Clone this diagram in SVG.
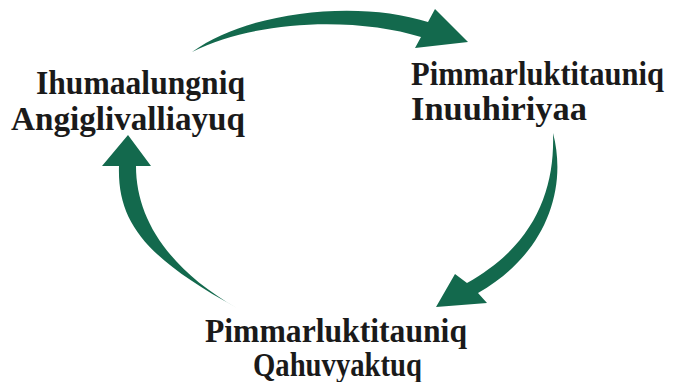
<svg xmlns="http://www.w3.org/2000/svg" width="673" height="382" viewBox="0 0 673 382">
<style>
.lbl{font-family:"Liberation Serif","DejaVu Serif",serif;font-weight:bold;font-size:33px;fill:#1a1a1a}
.arr{fill:#13694d;stroke:none}
</style>
<rect width="673" height="382" fill="#ffffff"/>
<g id="connectors">
<path class="arr" d="M192,52 C250,10 360,0 428,22 L435,9 L468,42 L415,48 L421,37 C360,18 260,18 192,52 Z"/>
<path class="arr" d="M553,133 C568,190 545,255 478,293 L487,303 L436,307 L455,274 L467,283 C535,245 555,190 553,133 Z"/>
<path class="arr" d="M237,308 C150,260 117,225 119,166 L102,166 L128,135 L151,166 L136,166 C136,220 170,270 237,308 Z"/>
</g>
<g id="node-left">
<text class="lbl" x="36" y="94" textLength="209" lengthAdjust="spacingAndGlyphs">Ihumaalungniq</text>
<text class="lbl" x="11" y="130" textLength="234" lengthAdjust="spacingAndGlyphs">Angiglivalliayuq</text>
</g>
<g id="node-right">
<text class="lbl" x="411" y="85" textLength="253" lengthAdjust="spacingAndGlyphs">Pimmarluktitauniq</text>
<text class="lbl" x="411" y="120" textLength="176" lengthAdjust="spacingAndGlyphs">Inuuhiriyaa</text>
</g>
<g id="node-bottom">
<text class="lbl" x="205" y="342" textLength="262" lengthAdjust="spacingAndGlyphs">Pimmarluktitauniq</text>
<text class="lbl" x="253" y="376" textLength="169" lengthAdjust="spacingAndGlyphs">Qahuvyaktuq</text>
</g>
</svg>
